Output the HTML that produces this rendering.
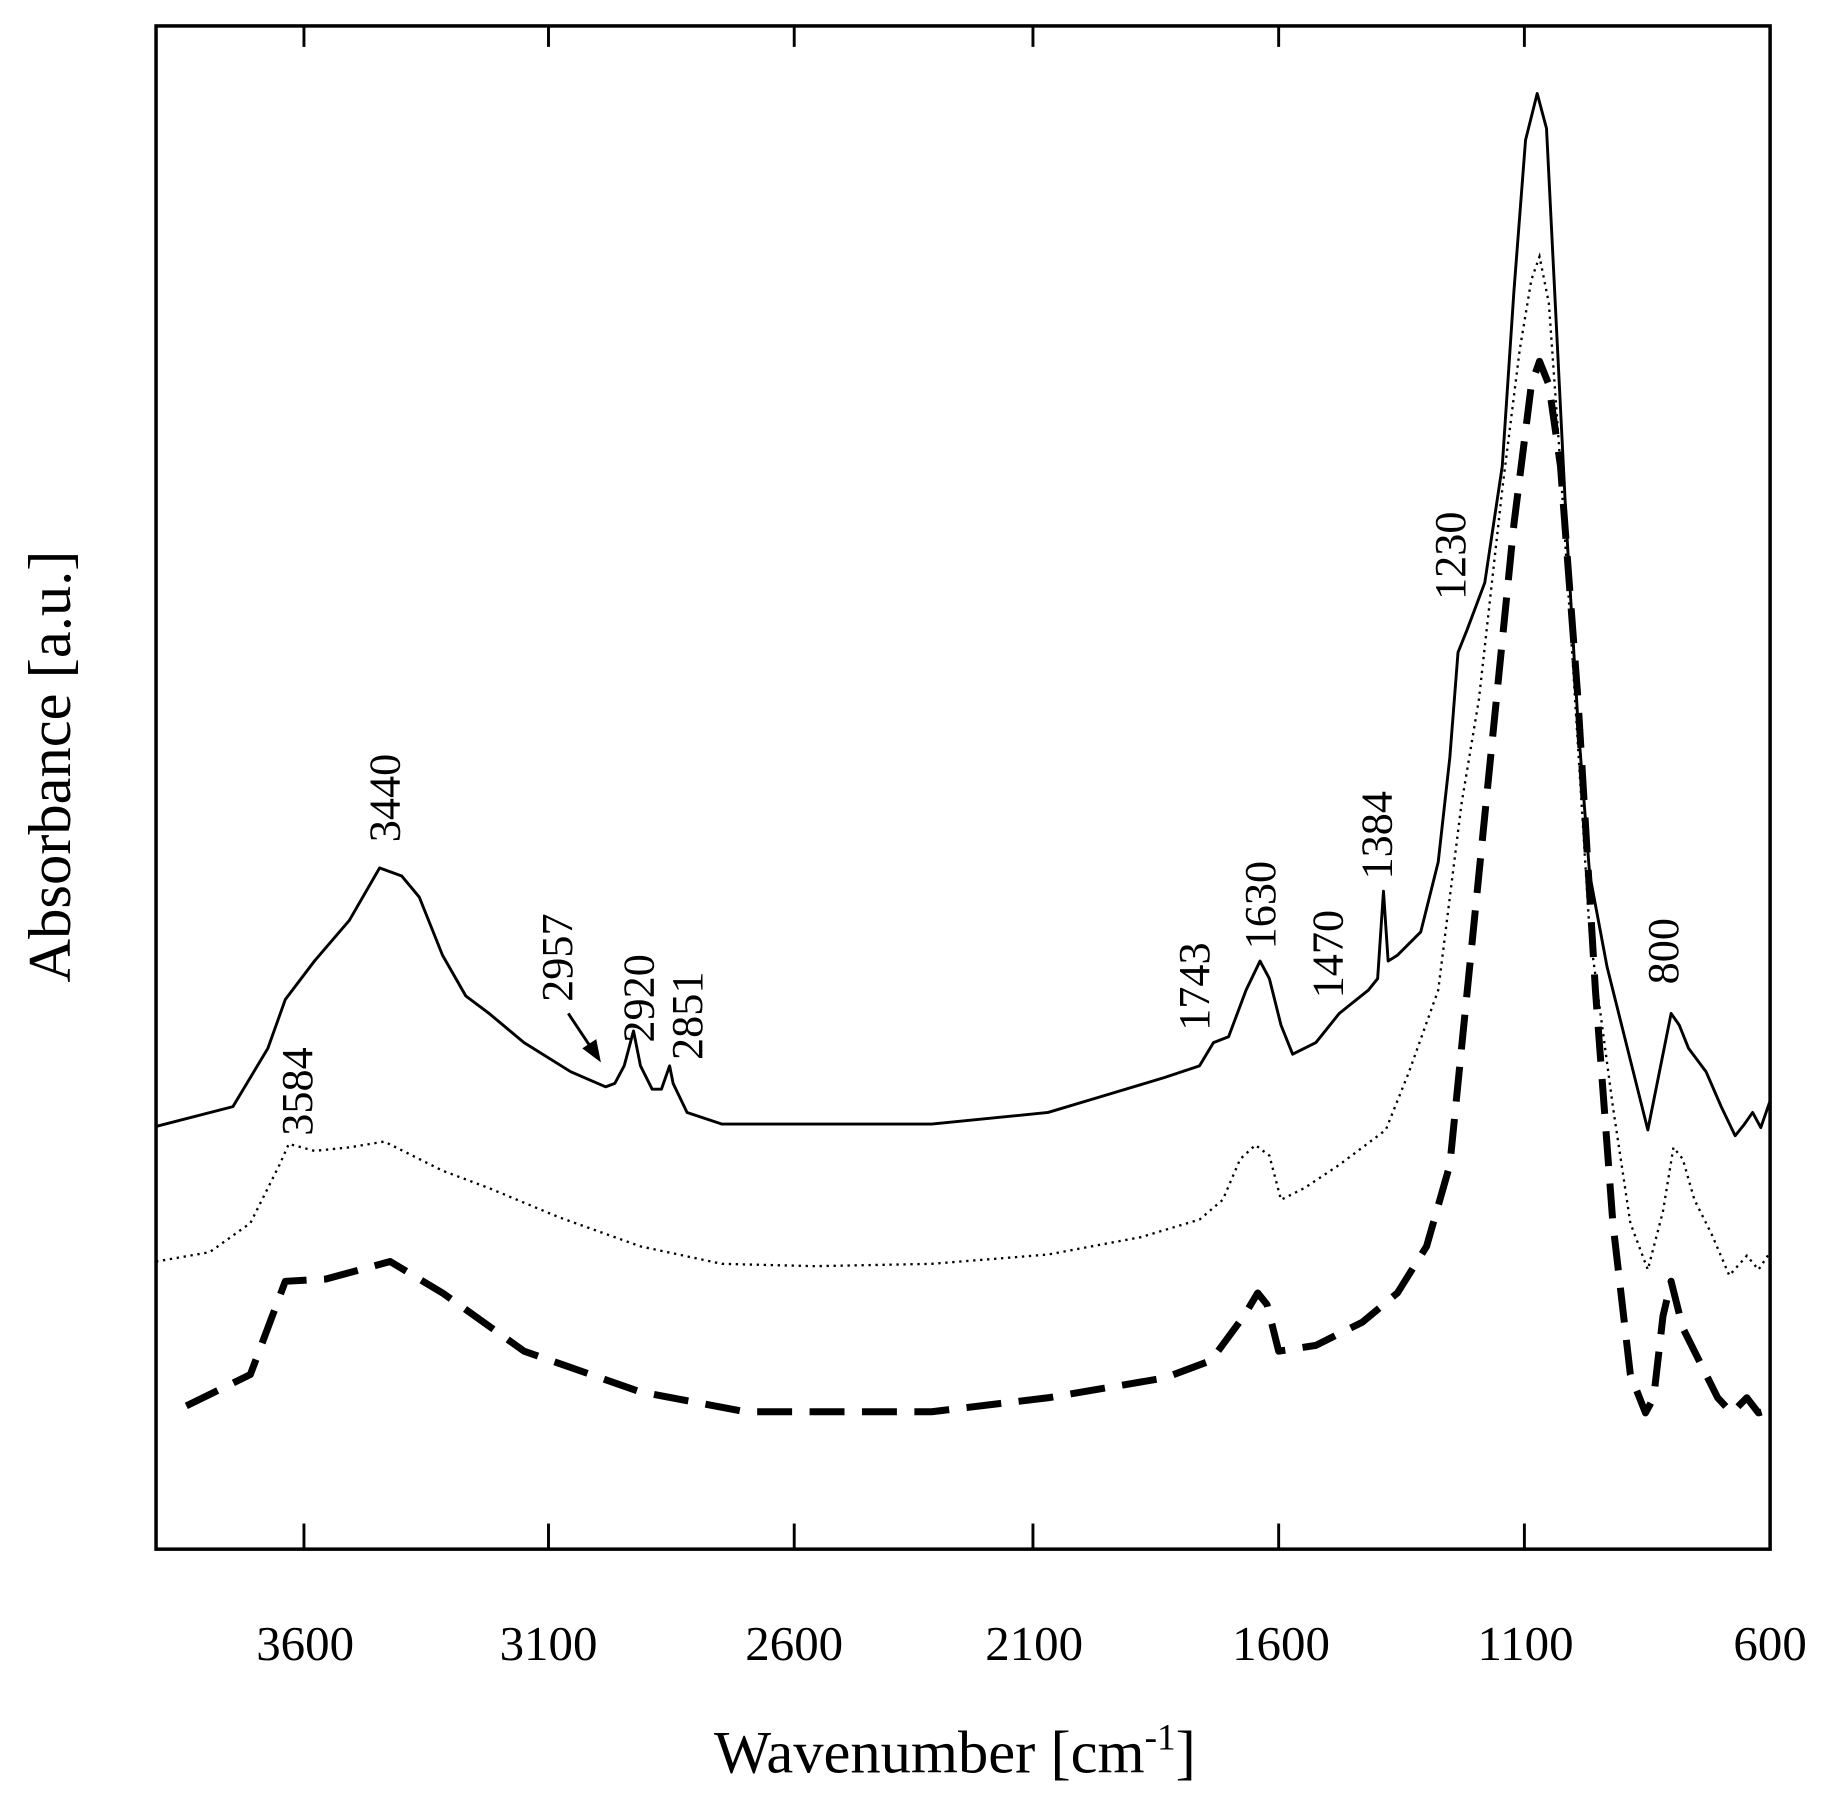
<!DOCTYPE html>
<html><head><meta charset="utf-8"><style>html,body{margin:0;padding:0;background:#fff}svg{display:block}</style></head>
<body>
<svg width="1826" height="1808" viewBox="0 0 1568 1552" xmlns="http://www.w3.org/2000/svg" font-family="'Liberation Serif', serif">
<rect width="1568" height="1552" fill="#fff"/>
<rect x="134" y="22" width="1386" height="1308" fill="none" stroke="#000" stroke-width="3"/>
<g stroke="#000" stroke-width="2.5">
<line x1="261" y1="22" x2="261" y2="40"/><line x1="471" y1="22" x2="471" y2="40"/><line x1="682" y1="22" x2="682" y2="40"/><line x1="887" y1="22" x2="887" y2="40"/><line x1="1098" y1="22" x2="1098" y2="40"/><line x1="1309" y1="22" x2="1309" y2="40"/>
<line x1="261" y1="1308" x2="261" y2="1330"/><line x1="471" y1="1308" x2="471" y2="1330"/><line x1="682" y1="1308" x2="682" y2="1330"/><line x1="887" y1="1308" x2="887" y2="1330"/><line x1="1098" y1="1308" x2="1098" y2="1330"/><line x1="1309" y1="1308" x2="1309" y2="1330"/>
</g>
<g font-size="42" text-anchor="middle">
<text x="262" y="1425">3600</text><text x="471" y="1425">3100</text><text x="682" y="1425">2600</text><text x="888" y="1425">2100</text><text x="1100" y="1425">1600</text><text x="1310" y="1425">1100</text><text x="1520" y="1425">600</text>
</g>
<text x="820" y="1522" font-size="52" text-anchor="middle">Wavenumber [cm<tspan font-size="32" dy="-20">-1</tspan><tspan dy="20">]</tspan></text>
<text transform="translate(60,658) rotate(-90)" font-size="52" text-anchor="middle">Absorbance [a.u.]</text>
<polyline fill="none" stroke="#000" stroke-width="2.5" stroke-linejoin="round" points="134,967 200,950 230,900 245,858 270,825 300,790 326,745 345,752 360,770 380,820 400,855 420,870 450,895 490,920 520,933 528,930 536,915 544,885 550,915 560,935 568,935 575,915 578,930 590,955 620,965 700,965 800,965 900,955 950,940 1000,925 1030,915 1042,895 1055,890 1070,850 1082,825 1090,840 1100,880 1110,905 1130,895 1150,870 1160,862 1175,850 1183,840 1188,765 1192,825 1200,820 1220,800 1235,740 1245,650 1252,560 1260,540 1275,500 1290,400 1300,250 1310,120 1320,80 1328,110 1335,250 1345,450 1355,620 1365,750 1380,830 1400,910 1415,970 1425,920 1435,870 1442,880 1450,900 1465,920 1478,950 1490,975 1498,965 1505,955 1512,968 1520,945"/>
<polyline fill="none" stroke="#000" stroke-width="2" stroke-dasharray="2,4" points="134,1083 180,1075 215,1050 240,1000 248,982 270,988 300,985 330,980 350,990 380,1005 420,1020 480,1045 550,1070 620,1085 700,1087 800,1085 900,1077 980,1062 1030,1047 1050,1030 1065,995 1078,983 1090,992 1100,1030 1120,1020 1150,1000 1170,985 1190,970 1210,920 1235,850 1255,690 1270,600 1290,420 1305,300 1315,240 1322,220 1330,260 1340,400 1350,560 1365,800 1385,950 1400,1050 1415,1090 1428,1040 1437,985 1445,995 1455,1030 1470,1060 1485,1095 1500,1078 1510,1090 1520,1075"/>
<polyline fill="none" stroke="#000" stroke-width="6" stroke-dasharray="30,15" stroke-linejoin="round" points="160,1207 215,1180 245,1100 280,1098 335,1083 380,1110 450,1160 550,1195 640,1212 800,1212 900,1200 1000,1183 1040,1168 1068,1130 1080,1110 1088,1120 1098,1160 1130,1155 1170,1135 1200,1110 1225,1070 1245,1000 1260,850 1270,750 1285,600 1300,450 1315,330 1322,310 1330,330 1340,400 1355,600 1370,850 1385,1050 1400,1180 1413,1213 1420,1200 1428,1130 1435,1100 1445,1140 1460,1170 1475,1200 1487,1213 1500,1200 1510,1213 1520,1210"/>
<g font-size="38">
<text transform="translate(343,723) rotate(-90)">3440</text>
<text transform="translate(268,975) rotate(-90)">3584</text>
<text transform="translate(491,860) rotate(-90)">2957</text>
<text transform="translate(561,895) rotate(-90)">2920</text>
<text transform="translate(603,910) rotate(-90)">2851</text>
<text transform="translate(1038,885) rotate(-90)">1743</text>
<text transform="translate(1095,815) rotate(-90)">1630</text>
<text transform="translate(1153,857) rotate(-90)">1470</text>
<text transform="translate(1195,755) rotate(-90)">1384</text>
<text transform="translate(1258,515) rotate(-90)">1230</text>
<text transform="translate(1441,845) rotate(-90)">800</text>
</g>
<line x1="488" y1="870" x2="508" y2="900" stroke="#000" stroke-width="2.5"/>
<polygon points="516,912 500,900 512,892" fill="#000"/>
</svg>
</body></html>
